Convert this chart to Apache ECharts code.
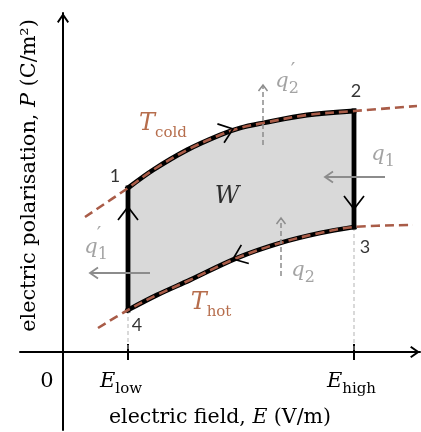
<!DOCTYPE html>
<html><head><meta charset="utf-8">
<script src="https://cdn.jsdelivr.net/npm/echarts@6/dist/echarts.min.js"></script>
<style>html,body{margin:0;padding:0;background:#fff}#c{width:421px;height:432px}</style>
</head><body><div id="c"></div>
<script>
// ---- data (arbitrary units; E along the field axis, P along the polarisation axis) ----
const tColdE = [22, 65, 90, 124, 157, 177, 200, 244, 291, 354];
const tColdP = [135, 164, 182, 202, 217, 224, 229, 237, 241, 246];
const tHotE = [35, 65, 94, 127, 174, 217, 257, 291, 350];
const tHotP = [24, 42, 57, 72, 94, 109, 119, 125, 127];
const stateNames = ['1', '2', '3', '4'];
const stateE = [65, 291, 291, 65];
const stateP = [164, 241, 125, 42];
const eLow = 65, eHigh = 291;
const xTickValues = [0, eLow, eHigh];
const xTickLabels = ['0', 'low', 'high'];
// heat-flow arrows [E1, P1, E2(tip), P2(tip)]
const heatSolid = [[322, 175, 262, 175], [87, 79, 27, 79]];
const heatDashed = [[200, 207, 200, 267], [218, 76, 218, 134]];
// cycle direction chevrons [E from, P from, E tip, P tip]
const cycleDir = [[65, 130, 65, 145], [155, 217.7, 170, 223], [291, 158, 291, 143], [185, 99, 170, 93]];

// ---- styles ----
const serif = 'DejaVu Serif';
const brownText = '#a4481f';
const brownLine = '#a95c48';
const grayQ = '#8c8c8c';
const arrowUp = 'path://M6,0 L12,8.6 L10.5,9.8 L6,3.4 L1.5,9.8 L0,8.6 Z';

const pts = (E, P) => E.map((e, i) => [e, P[i]]);
const coldAll = pts(tColdE, tColdP);
const hotAll = pts(tHotE, tHotP);
const coldSeg = coldAll.filter(p => p[0] >= eLow && p[0] <= eHigh);
const hotSeg = hotAll.filter(p => p[0] >= eLow && p[0] <= eHigh);
const cyclePoly = coldSeg.concat(hotSeg.slice().reverse());

function arrowRender(opt) {
  return function (params, api) {
    const p1 = api.coord([api.value(0), api.value(1)]);
    const p2 = api.coord([api.value(2), api.value(3)]);
    const dx = p2[0] - p1[0], dy = p2[1] - p1[1];
    const len = Math.hypot(dx, dy) || 1;
    const ux = dx / len, uy = dy / len;
    const b = [p2[0] - ux * opt.headLen, p2[1] - uy * opt.headLen];
    const a1 = [b[0] - uy * opt.headHalf, b[1] + ux * opt.headHalf];
    const a2 = [b[0] + uy * opt.headHalf, b[1] - ux * opt.headHalf];
    const children = [];
    if (opt.shaft) {
      children.push({type: 'line', shape: {x1: p1[0], y1: p1[1], x2: p2[0], y2: p2[1]},
        style: {stroke: opt.color, lineWidth: opt.width, lineDash: opt.dash || null}});
    }
    children.push({type: 'polyline', shape: {points: [a1, p2, a2]},
      style: {stroke: opt.color, lineWidth: opt.headWidth || opt.width, fill: null}});
    return {type: 'group', children};
  };
}

function line(data, style, smooth, z) {
  return {type: 'line', data, symbol: 'none', showSymbol: false, smooth: smooth || false,
    lineStyle: style, silent: true, z: z, animation: false};
}

const stateOffsets = [[-13, -12], [2, -20], [11, 20], [9, 15]];

const annRich = {
  t: {fontFamily: serif, fontStyle: 'italic', fontSize: 24, color: brownText, padding: [0, 0, 5, 0], verticalAlign: 'bottom'},
  ts: {fontFamily: serif, fontSize: 15, color: brownText, verticalAlign: 'bottom'},
  w: {fontFamily: serif, fontStyle: 'italic', fontSize: 24, color: '#000'},
  q: {fontFamily: serif, fontStyle: 'italic', fontSize: 21, color: grayQ, padding: [0, 0, 5, 0], verticalAlign: 'bottom'},
  qs: {fontFamily: serif, fontSize: 16, color: grayQ, verticalAlign: 'bottom'},
  pr: {fontFamily: serif, fontSize: 20, color: grayQ}
};

const annotations = [
  {value: [100, 226], label: {formatter: '{t|T}{ts|cold}'}},
  {value: [148, 47], label: {formatter: '{t|T}{ts|hot}'}},
  {value: [164, 155], label: {formatter: '{w|W}'}},
  {value: [224, 268], label: {formatter: '{q|q}{qs|2}'}},
  {value: [230, 280], label: {formatter: '{pr|′}'}},
  {value: [320, 195], label: {formatter: '{q|q}{qs|1}'}},
  {value: [33, 102], label: {formatter: '{q|q}{qs|1}'}},
  {value: [36, 116], label: {formatter: '{pr|′}'}},
  {value: [240, 79], label: {formatter: '{q|q}{qs|2}'}}
];

const chart = echarts.init(document.getElementById('c'), null, {renderer: 'canvas'});
chart.setOption({
  animation: false,
  backgroundColor: '#fff',
  textStyle: {fontFamily: serif},
  grid: {left: 20, right: 1, top: 13, bottom: 2, containLabel: false, outerBoundsMode: 'none'},
  xAxis: [{
    type: 'value', min: -43, max: 357, position: 'bottom',
    axisLine: {show: true, onZero: true, symbol: ['none', arrowUp], symbolSize: [12, 10], symbolOffset: [0, -5],
      lineStyle: {color: '#000', width: 2}},
    axisTick: {show: true, customValues: [eLow, eHigh], length: 8, lineStyle: {color: '#000', width: 2}},
    axisLabel: {
      show: true, customValues: xTickValues, margin: -59,
      formatter: function (v) {
        const i = xTickValues.indexOf(v);
        if (i === 0) return '{z|' + xTickLabels[0] + '}';
        return '{e|E}{' + (i === 1 ? 'sl' : 'sh') + '|' + xTickLabels[i] + '}';
      },
      rich: {
        z: {fontFamily: serif, fontSize: 21, color: '#000', padding: [0, 32, 5, 0], verticalAlign: 'bottom'},
        e: {fontFamily: serif, fontStyle: 'italic', fontSize: 21, color: '#000', padding: [0, 0, 5, 0], verticalAlign: 'bottom'},
        sl: {fontFamily: serif, fontSize: 15, color: '#000', padding: [0, 14, 0, 0], verticalAlign: 'bottom'},
        sh: {fontFamily: serif, fontSize: 15, color: '#000', padding: [0, 5, 0, 0], verticalAlign: 'bottom'}
      }
    },
    splitLine: {show: false},
    name: 'electric field, {i|E} (V/m)', nameLocation: 'middle', nameGap: -23, nameMoveOverlap: false,
    nameTextStyle: {fontFamily: serif, fontSize: 20.5, color: '#000',
      rich: {i: {fontFamily: serif, fontStyle: 'italic', fontSize: 20.5, color: '#000'}}}
  }, {
    type: 'value', min: -43, max: 357, position: 'top',
    axisLine: {show: false, onZero: true},
    axisTick: {show: true, inside: false, customValues: [eLow, eHigh], length: 8, lineStyle: {color: '#000', width: 2}},
    axisLabel: {show: false}, splitLine: {show: false}
  }],
  yAxis: [{
    type: 'value', min: -78, max: 339,
    axisLine: {show: true, onZero: true, symbol: ['none', arrowUp], symbolSize: [12, 10], symbolOffset: [0, -5],
      lineStyle: {color: '#000', width: 2}},
    axisTick: {show: false}, axisLabel: {show: false}, splitLine: {show: false},
    name: 'electric polarisation, {i|P} (C/m²)', nameLocation: 'middle', nameGap: -20, nameRotate: 90, nameMoveOverlap: false,
    nameTextStyle: {fontFamily: serif, fontSize: 20.8, color: '#000', padding: [0, 0, 0, 92],
      rich: {i: {fontFamily: serif, fontStyle: 'italic', fontSize: 20.8, color: '#000'}}}
  }, {
    type: 'value', min: -78, max: 339, show: false, axisLine: {onZero: false}
  }],
  series: [
    {type: 'custom', silent: true, z: 1, data: [[0, 0]], clip: false,
      renderItem: function (params, api) {
        return {type: 'polygon', shape: {points: cyclePoly.map(p => api.coord(p))},
          style: {fill: '#d9d9d9', stroke: null}};
      }},
    // drop lines from states 4 and 3 to the axis
    line([[stateE[3], stateP[3]], [stateE[3], 0]], {color: '#b3b3b3', width: 1, type: [4, 3]}, false, 1),
    line([[stateE[2], stateP[2]], [stateE[2], 0]], {color: '#b3b3b3', width: 1, type: [4, 3]}, false, 1),
    // cycle (black)
    line(coldSeg, {color: '#000', width: 4.8, cap: 'square'}, 0.35, 2),
    line([[stateE[1], stateP[1]], [stateE[2], stateP[2]]], {color: '#000', width: 4.8, cap: 'square'}, false, 2),
    line(hotSeg, {color: '#000', width: 4.8, cap: 'square'}, 0.35, 2),
    line([[stateE[3], stateP[3]], [stateE[0], stateP[0]]], {color: '#000', width: 4.8, cap: 'square'}, false, 2),
    // isotherms (dashed brown)
    line(coldAll, {color: brownLine, width: 2.6, type: [9, 5]}, 0.35, 3),
    line(hotAll, {color: brownLine, width: 2.6, type: [9, 5]}, 0.35, 3),
    // heat arrows
    {type: 'custom', silent: true, z: 4, clip: false, data: heatSolid,
      renderItem: arrowRender({shaft: true, color: grayQ, width: 2, headLen: 8, headHalf: 5.5, headWidth: 1.8})},
    {type: 'custom', silent: true, z: 4, clip: false, data: heatDashed,
      renderItem: arrowRender({shaft: true, color: grayQ, width: 1.5, dash: [5, 3], headLen: 6, headHalf: 4.5, headWidth: 1.5})},
    // cycle direction chevrons
    {type: 'custom', silent: true, z: 4, clip: false, data: cycleDir,
      renderItem: arrowRender({shaft: false, color: '#000', width: 1.7, headLen: 13, headHalf: 10})},
    // state labels
    {type: 'scatter', silent: true, z: 5, symbolSize: 1, itemStyle: {color: 'transparent'},
      data: stateNames.map((n, i) => ({value: [stateE[i], stateP[i]], name: n,
        label: {offset: stateOffsets[i]}})),
      label: {show: true, position: 'inside', formatter: '{b}', fontFamily: 'Lato', fontSize: 18, color: '#000'}},
    // annotations
    {type: 'scatter', silent: true, z: 5, symbolSize: 1, itemStyle: {color: 'transparent'},
      data: annotations,
      label: {show: true, position: 'inside', rich: annRich}}
  ]
});
</script>
</body></html>
